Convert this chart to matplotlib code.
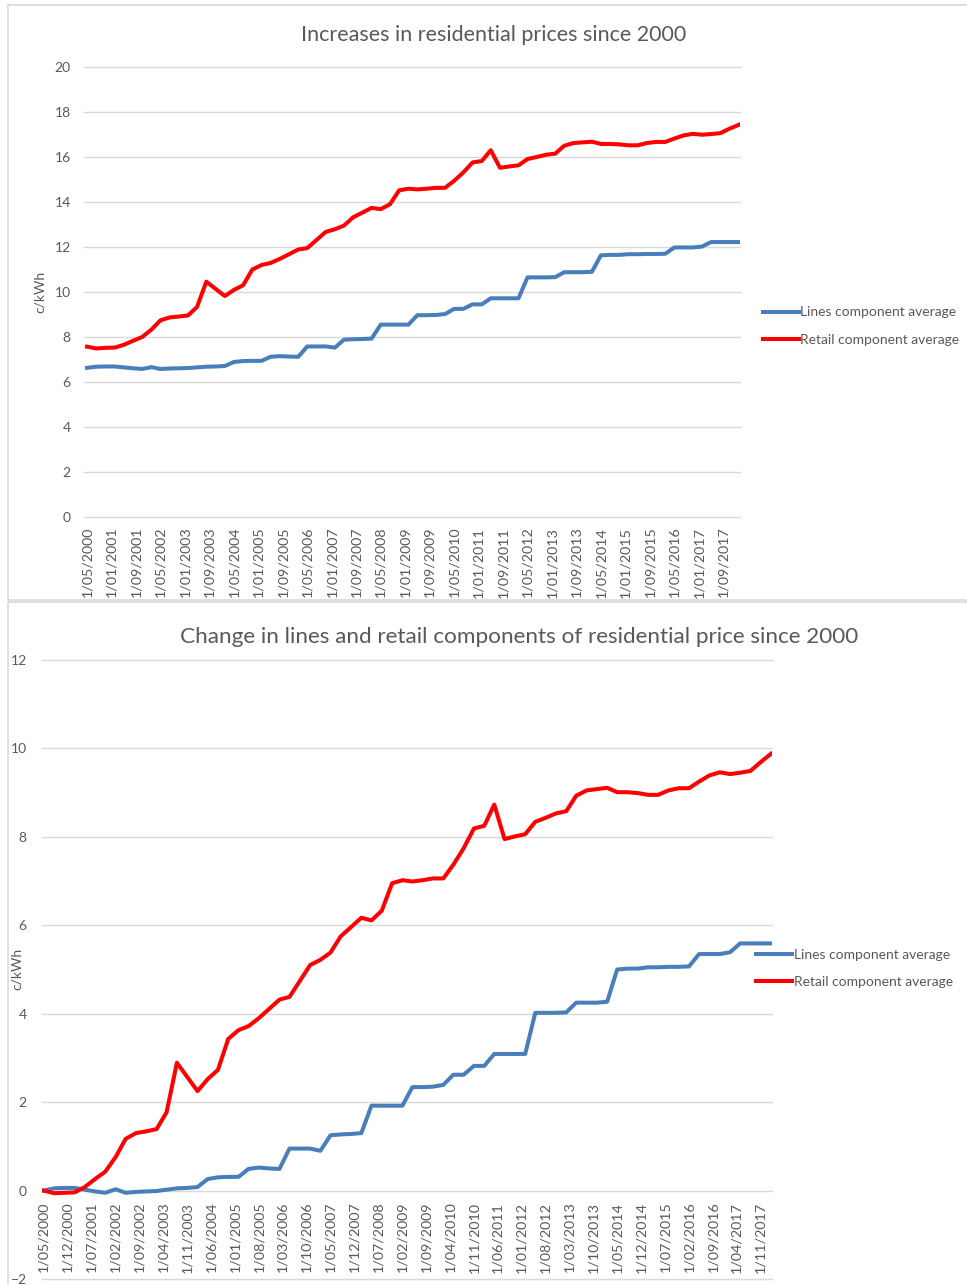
import numpy as np
import pandas as pd
import matplotlib
matplotlib.use("Agg")
import matplotlib.pyplot as plt
from matplotlib.patches import Rectangle

plt.rcParams['font.family'] = ['Lato', 'DejaVu Sans']

# quarterly observations, 1 May 2000 .. 1 Feb 2018
quarters = pd.date_range("2000-05-01", "2018-02-01", freq="3MS")

# average residential price components (c/kWh)
lines_price = [6.63, 6.68, 6.69, 6.69, 6.65, 6.61, 6.58, 6.66, 6.58, 6.60, 6.61, 6.62,
               6.65, 6.68, 6.69, 6.71, 6.89, 6.93, 6.94, 6.94, 7.12, 7.15, 7.13, 7.12,
               7.58, 7.58, 7.58, 7.53, 7.88, 7.90, 7.91, 7.93, 8.55, 8.55, 8.55, 8.55,
               8.97, 8.97, 8.98, 9.02, 9.25, 9.25, 9.45, 9.45, 9.72, 9.72, 9.72, 9.72,
               10.65, 10.65, 10.65, 10.66, 10.88, 10.88, 10.88, 10.90, 11.63, 11.65, 11.65, 11.68,
               11.68, 11.69, 11.69, 11.70, 11.98, 11.98, 11.98, 12.02, 12.22, 12.22, 12.22, 12.22]
retail_price = [7.57, 7.49, 7.52, 7.53, 7.65, 7.83, 8.00, 8.33, 8.74, 8.87, 8.91, 8.96,
                9.34, 10.46, 10.14, 9.82, 10.09, 10.30, 11.00, 11.20, 11.29, 11.47, 11.68, 11.89,
                11.95, 12.31, 12.67, 12.79, 12.95, 13.32, 13.53, 13.74, 13.68, 13.90, 14.52, 14.59,
                14.56, 14.59, 14.63, 14.63, 14.94, 15.31, 15.76, 15.82, 16.30, 15.52, 15.58, 15.63,
                15.91, 16.00, 16.10, 16.15, 16.50, 16.62, 16.65, 16.68, 16.58, 16.58, 16.56, 16.52,
                16.52, 16.62, 16.67, 16.67, 16.82, 16.96, 17.03, 16.99, 17.02, 17.06, 17.26, 17.43]

# change since May 2000 (c/kWh)
lines_change = [0.00, 0.05, 0.06, 0.06, 0.02, -0.02, -0.05, 0.03, -0.05, -0.03, -0.02, -0.01,
                0.02, 0.05, 0.06, 0.08, 0.26, 0.30, 0.31, 0.31, 0.49, 0.52, 0.50, 0.49,
                0.95, 0.95, 0.95, 0.90, 1.25, 1.27, 1.28, 1.30, 1.92, 1.92, 1.92, 1.92,
                2.34, 2.34, 2.35, 2.39, 2.62, 2.62, 2.82, 2.82, 3.09, 3.09, 3.09, 3.09,
                4.02, 4.02, 4.02, 4.03, 4.25, 4.25, 4.25, 4.27, 5.00, 5.02, 5.02, 5.05,
                5.05, 5.06, 5.06, 5.07, 5.35, 5.35, 5.35, 5.39, 5.59, 5.59, 5.59, 5.59]
retail_change = [0.00, -0.06, -0.05, -0.04, 0.08, 0.26, 0.43, 0.76, 1.17, 1.30, 1.34, 1.39,
                 1.77, 2.89, 2.57, 2.25, 2.52, 2.73, 3.43, 3.63, 3.72, 3.90, 4.11, 4.32,
                 4.38, 4.74, 5.10, 5.22, 5.38, 5.75, 5.96, 6.17, 6.11, 6.33, 6.95, 7.02,
                 6.99, 7.02, 7.06, 7.06, 7.37, 7.74, 8.19, 8.25, 8.73, 7.95, 8.01, 8.06,
                 8.34, 8.43, 8.53, 8.58, 8.93, 9.05, 9.08, 9.11, 9.01, 9.01, 8.99, 8.95,
                 8.95, 9.05, 9.10, 9.10, 9.25, 9.39, 9.46, 9.42, 9.45, 9.49, 9.69, 9.88]

top_labels = ["1/05/2000", "1/01/2001", "1/09/2001", "1/05/2002", "1/01/2003", "1/09/2003",
              "1/05/2004", "1/01/2005", "1/09/2005", "1/05/2006", "1/01/2007", "1/09/2007",
              "1/05/2008", "1/01/2009", "1/09/2009", "1/05/2010", "1/01/2011", "1/09/2011",
              "1/05/2012", "1/01/2013", "1/09/2013", "1/05/2014", "1/01/2015", "1/09/2015",
              "1/05/2016", "1/01/2017", "1/09/2017"]
bottom_labels = ["1/05/2000", "1/12/2000", "1/07/2001", "1/02/2002", "1/09/2002", "1/04/2003",
                 "1/11/2003", "1/06/2004", "1/01/2005", "1/08/2005", "1/03/2006", "1/10/2006",
                 "1/05/2007", "1/12/2007", "1/07/2008", "1/02/2009", "1/09/2009", "1/04/2010",
                 "1/11/2010", "1/06/2011", "1/01/2012", "1/08/2012", "1/03/2013", "1/10/2013",
                 "1/05/2014", "1/12/2014", "1/07/2015", "1/02/2016", "1/09/2016", "1/04/2017",
                 "1/11/2017"]
series_names = ["Lines component average", "Retail component average"]

BLUE = "#4A7EBB"
RED = "#FF0000"
GRID = "#D9D9D9"
TEXT = "#595959"

W, H = 967, 1285
fig = plt.figure(figsize=(W / 100, H / 100), dpi=100)


def px(x0, y0, x1, y1):
    # pixel box (top-left origin) -> figure fraction rect
    return [x0 / W, 1 - y1 / H, (x1 - x0) / W, (y1 - y0) / H]


def panel(rect, lines, retail, labels, ylim, xlim, ypad, xpad, axis_at_zero=False):
    ax = fig.add_axes(rect)
    if axis_at_zero:
        # has to come before the ticks are set, it resets them
        ax.spines['bottom'].set_position(('data', 0))
    ax.plot(quarters, lines, color=BLUE, lw=2.9, solid_joinstyle='round', label=series_names[0])
    ax.plot(quarters, retail, color=RED, lw=2.9, solid_joinstyle='round', label=series_names[1])
    ax.set_ylim(*ylim)
    ax.set_yticks(np.arange(ylim[0], ylim[1] + 1, 2))
    ax.set_xlim(pd.Timestamp(xlim[0]), pd.Timestamp(xlim[1]))
    ax.set_xticks(pd.to_datetime(labels, format="%d/%m/%Y"))
    ax.set_xticklabels(labels, rotation=90)
    ax.grid(axis='y', color=GRID, lw=1.0)
    for g in ax.get_ygridlines():
        g.set_clip_on(False)
    ax.set_axisbelow(True)
    for s in ax.spines.values():
        s.set_color('none')
    ax.tick_params(length=0, colors=TEXT, labelsize=10)
    ax.tick_params(axis='x', pad=xpad, labelsize=10.3)
    ax.tick_params(axis='y', pad=ypad)
    return ax


# chart borders
fig.add_artist(Rectangle((8 / W, 1 - 600 / H), 1.0, 595 / H, transform=fig.transFigure,
                         fill=False, edgecolor=GRID, lw=1.2))
fig.add_artist(Rectangle((8 / W, -0.01), 1.0, 1 - 602 / H + 0.01, transform=fig.transFigure,
                         fill=False, edgecolor=GRID, lw=1.2))

# top: price levels
ax1 = panel(px(84, 67, 740, 517), lines_price, retail_price, top_labels,
            (0, 20), ("2000-04-01", "2018-02-13"), 9.5, 7)
fig.text(494 / W, 1 - 35 / H, "Increases in residential prices since 2000",
         ha='center', va='center', fontsize=15.5, color=TEXT)
fig.text(40 / W, 1 - 292 / H, "c/kWh", rotation=90, ha='center', va='center',
         fontsize=10, color=TEXT)
ax1.legend(loc='center left', bbox_to_anchor=(763 / W, 1 - 326 / H),
           bbox_transform=fig.transFigure, frameon=False, fontsize=10,
           labelcolor=TEXT, handlelength=2.6, handletextpad=0.1, labelspacing=1.1,
           borderpad=0, borderaxespad=0)

# bottom: change since 2000
ax2 = panel(px(42, 660, 772, 1279), lines_change, retail_change, bottom_labels,
            (-2, 12), ("2000-04-15", "2018-02-10"), 11, 8, axis_at_zero=True)
fig.text(519 / W, 1 - 637 / H,
         "Change in lines and retail components of residential price since 2000",
         ha='center', va='center', fontsize=16.2, color=TEXT)
fig.text(17 / W, 1 - 969 / H, "c/kWh", rotation=90, ha='center', va='center',
         fontsize=10, color=TEXT)
ax2.legend(loc='center left', bbox_to_anchor=(756 / W, 1 - 968.5 / H),
           bbox_transform=fig.transFigure, frameon=False, fontsize=10,
           labelcolor=TEXT, handlelength=2.6, handletextpad=0.1, labelspacing=1.1,
           borderpad=0, borderaxespad=0)

fig.savefig("out.png", dpi=100, facecolor='white')
